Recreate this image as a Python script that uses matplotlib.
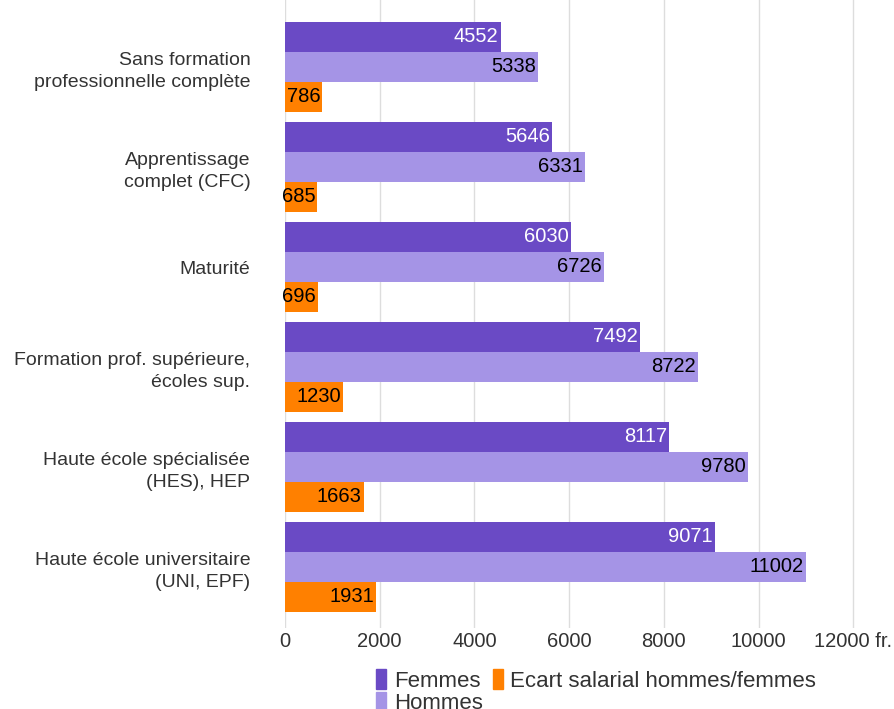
import matplotlib.pyplot as plt
import numpy as np

categories = [
    "Sans formation\nprofessionnelle complète",
    "Apprentissage\ncomplet (CFC)",
    "Maturité",
    "Formation prof. supérieure,\nécoles sup.",
    "Haute école spécialisée\n(HES), HEP",
    "Haute école universitaire\n(UNI, EPF)",
]
femmes = [4552, 5646, 6030, 7492, 8117, 9071]
hommes = [5338, 6331, 6726, 8722, 9780, 11002]
ecart = [786, 685, 696, 1230, 1663, 1931]
xticks = [0, 2000, 4000, 6000, 8000, 10000, 12000]
xticklabels = ["0", "2000", "4000", "6000", "8000", "10000", "12000 fr."]

plt.rcParams["font.family"] = ["Liberation Sans", "DejaVu Sans"]

c_f = "#6a4ac5"
c_h = "#a594e6"
c_e = "#ff8000"
txt = "#333333"

fig = plt.figure(figsize=(8.94, 7.09), dpi=100)
ax = fig.add_axes([285 / 894, 1 - 628 / 709, 1 - 285 / 894, 628 / 709])

y = np.arange(len(categories))
h = 0.3
series = [(femmes, c_f, -h, "white"), (hommes, c_h, 0, "black"), (ecart, c_e, h, "black")]
for vals, col, off, tc in series:
    bars = ax.barh(y + off, vals, height=h, color=col, zorder=2)
    for b, v in zip(bars, vals):
        ax.annotate(str(v), xy=(b.get_width(), b.get_y() + h / 2), xytext=(-1.5, 0),
                    textcoords="offset points", ha="right", va="center",
                    color=tc, fontsize=14.5, zorder=3)

ax.set_ylim(5.61, -0.67)
ax.set_xlim(0, 12860)
ax.set_xticks(xticks)
ax.set_xticklabels(xticklabels, fontsize=14.5, color=txt)
ax.set_yticks(y)
ax.set_yticklabels(categories, fontsize=14, color=txt, linespacing=1.35)
ax.tick_params(axis="y", length=0, pad=25)
ax.tick_params(axis="x", length=0, pad=3)
ax.grid(axis="x", color="#dddddd", linewidth=1, zorder=0)
for s in ax.spines.values():
    s.set_visible(False)

handles = [plt.Rectangle((0, 0), 1, 1, color=c) for c in (c_f, c_h, c_e)]
fig.legend(handles, ["Femmes", "Hommes", "Ecart salarial hommes/femmes"], ncol=2,
           loc="upper left", bbox_to_anchor=(376 / 894, 1 - 669 / 709), frameon=False,
           fontsize=16, handlelength=0.45, handleheight=1.0, handletextpad=0.35,
           columnspacing=0.45, labelspacing=0.0, borderpad=0, borderaxespad=0,
           labelcolor=txt)

fig.savefig("out.png", dpi=100)
